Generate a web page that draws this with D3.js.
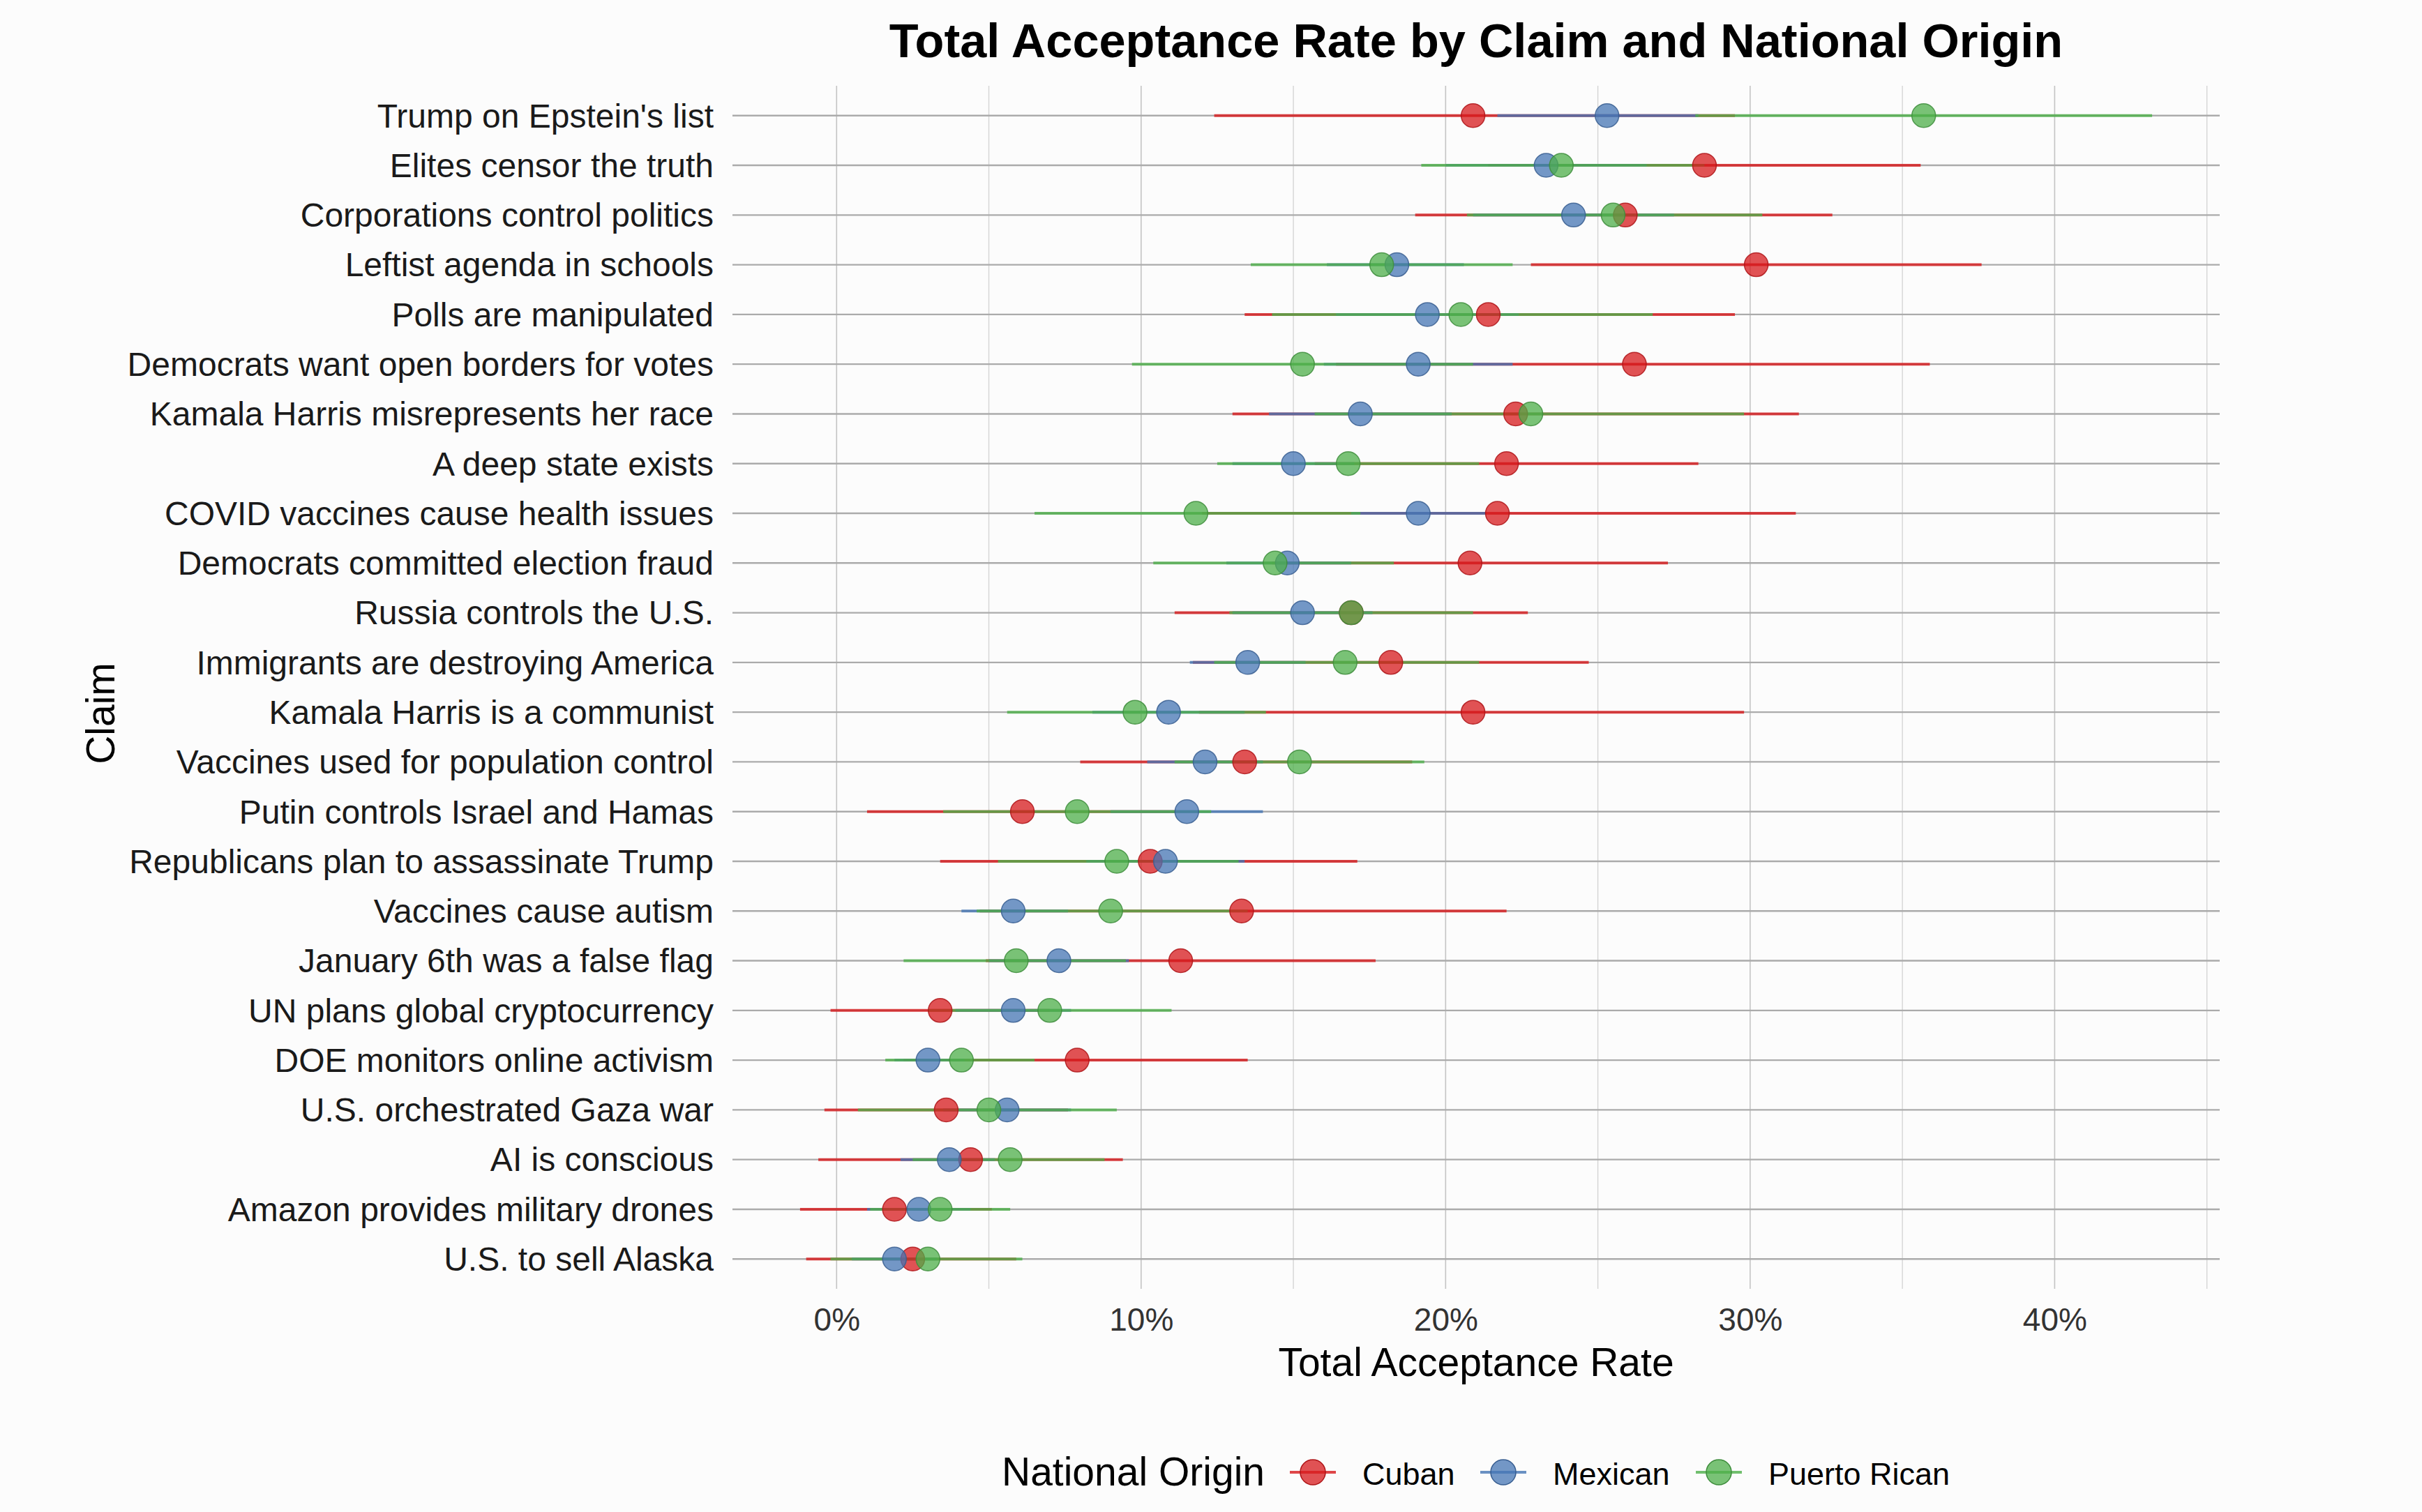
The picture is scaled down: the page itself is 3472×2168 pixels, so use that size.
<!DOCTYPE html>
<html>
<head>
<meta charset="utf-8">
<script src="https://cdn.jsdelivr.net/npm/d3@7"></script>
<style>
  html, body { margin: 0; padding: 0; background: #fcfcfc; }
  svg { display: block; font-family: "Liberation Sans", Arial, Helvetica, sans-serif; }
</style>
</head>
<body>
<svg id="chart" width="3472" height="2168"></svg>
<script>
// ---------------- DATA ----------------
const claims = [
  "Trump on Epstein's list",
  "Elites censor the truth",
  "Corporations control politics",
  "Leftist agenda in schools",
  "Polls are manipulated",
  "Democrats want open borders for votes",
  "Kamala Harris misrepresents her race",
  "A deep state exists",
  "COVID vaccines cause health issues",
  "Democrats committed election fraud",
  "Russia controls the U.S.",
  "Immigrants are destroying America",
  "Kamala Harris is a communist",
  "Vaccines used for population control",
  "Putin controls Israel and Hamas",
  "Republicans plan to assassinate Trump",
  "Vaccines cause autism",
  "January 6th was a false flag",
  "UN plans global cryptocurrency",
  "DOE monitors online activism",
  "U.S. orchestrated Gaza war",
  "AI is conscious",
  "Amazon provides military drones",
  "U.S. to sell Alaska"
];

const groups = ["Cuban", "Mexican", "Puerto Rican"];

// acceptance rate (%), lower and upper interval bounds (%)
const cubanRate = [20.9, 28.5, 25.9, 30.2, 21.4, 26.2, 22.3, 22.0, 21.7, 20.8, 16.9, 18.2, 20.9, 13.4, 6.1, 10.3, 13.3, 11.3, 3.4, 7.9, 3.6, 4.4, 1.9, 2.5];
const cubanLow  = [12.4, 21.4, 19.0, 22.8, 13.4, 16.4, 13.0, 15.7, 12.0, 14.3, 11.1, 11.7, 11.9, 8.0, 1.0, 3.4, 4.7, 4.9, -0.2, 2.2, -0.4, -0.6, -1.2, -1.0];
const cubanHigh = [29.5, 35.6, 32.7, 37.6, 29.5, 35.9, 31.6, 28.3, 31.5, 27.3, 22.7, 24.7, 29.8, 18.9, 11.1, 17.1, 22.0, 17.7, 7.0, 13.5, 7.6, 9.4, 5.1, 5.9];

const mexicanRate = [25.3, 23.3, 24.2, 18.4, 19.4, 19.1, 17.2, 15.0, 19.1, 14.8, 15.3, 13.5, 10.9, 12.1, 11.5, 10.8, 5.8, 7.3, 5.8, 3.0, 5.6, 3.7, 2.7, 1.9];
const mexicanLow  = [21.7, 20.0, 20.9, 16.1, 16.4, 16.0, 14.2, 13.0, 16.9, 12.8, 13.0, 11.6, 8.4, 10.2, 9.0, 8.2, 4.1, 5.0, 3.9, 1.9, 3.5, 2.1, 1.0, 0.5];
const mexicanHigh = [28.3, 26.6, 27.5, 20.6, 22.4, 22.2, 20.2, 17.0, 21.3, 16.9, 17.6, 15.4, 13.4, 14.0, 14.0, 13.4, 7.6, 9.6, 7.7, 4.2, 7.7, 5.2, 4.4, 3.3];

const puertoRate = [35.7, 23.8, 25.5, 17.9, 20.5, 15.3, 22.8, 16.8, 11.8, 14.4, 16.9, 16.7, 9.8, 15.2, 7.9, 9.2, 9.0, 5.9, 7.0, 4.1, 5.0, 5.7, 3.4, 3.0];
const puertoLow  = [28.2, 19.2, 20.7, 13.6, 14.3, 9.7, 15.7, 12.5, 6.5, 10.4, 12.9, 12.4, 5.6, 11.1, 3.5, 5.3, 4.6, 2.2, 3.0, 1.6, 0.7, 2.5, 1.1, -0.2];
const puertoHigh = [43.2, 28.5, 30.4, 22.2, 26.8, 20.9, 29.8, 21.1, 17.2, 18.3, 20.9, 21.1, 14.1, 19.3, 12.3, 13.2, 13.5, 9.5, 11.0, 6.5, 9.2, 8.8, 5.7, 6.1];

const xTicks = [0, 10, 20, 30, 40];
const xMinorTicks = [5, 15, 25, 35, 45];

// ---------------- BUILD ----------------
const series = [
  { name: groups[0], rate: cubanRate, low: cubanLow, high: cubanHigh },
  { name: groups[1], rate: mexicanRate, low: mexicanLow, high: mexicanHigh },
  { name: groups[2], rate: puertoRate, low: puertoLow, high: puertoHigh }
];
const rows = [];
series.forEach(s => claims.forEach((c, i) => rows.push({ group: s.name, claim: c, rate: s.rate[i], low: s.low[i], high: s.high[i] })));

const color = d3.scaleOrdinal().domain(groups).range(["#d7191c", "#4575b4", "#4daf4a"]);

const svg = d3.select("#chart");
const W = 3472, H = 2168;
const panel = { left: 1050, right: 3182, top: 123, bottom: 1848 };

svg.append("rect").attr("width", W).attr("height", H).attr("fill", "#fcfcfc");

const lo = d3.min(rows, d => d.low), hi = d3.max(rows, d => d.high);
const pad = (hi - lo) * 0.05;
const x = d3.scaleLinear().domain([lo - pad, hi + pad]).range([panel.left, panel.right]);

const step = (panel.bottom - panel.top) / (claims.length - 1 + 1.2);
const y = d3.scalePoint().domain(claims).range([panel.top + 0.6 * step, panel.bottom - 0.6 * step]);

// grid
const g = svg.append("g");
g.selectAll(".minor").data(xMinorTicks.filter(t => x(t) <= panel.right)).join("line")
  .attr("x1", d => x(d)).attr("x2", d => x(d)).attr("y1", panel.top).attr("y2", panel.bottom)
  .attr("stroke", "#d4d4d4").attr("stroke-width", 1.4);
g.selectAll(".major").data(xTicks).join("line")
  .attr("x1", d => x(d)).attr("x2", d => x(d)).attr("y1", panel.top).attr("y2", panel.bottom)
  .attr("stroke", "#c4c4c4").attr("stroke-width", 1.6);
g.selectAll(".hline").data(claims).join("line")
  .attr("x1", panel.left).attr("x2", panel.right).attr("y1", d => y(d)).attr("y2", d => y(d))
  .attr("stroke", "#ababab").attr("stroke-width", 2.4);

// intervals
svg.append("g").selectAll("line").data(rows).join("line")
  .attr("x1", d => x(d.low)).attr("x2", d => x(d.high))
  .attr("y1", d => y(d.claim)).attr("y2", d => y(d.claim))
  .attr("stroke", d => color(d.group)).attr("stroke-opacity", 0.8).attr("stroke-width", 4);

// points
svg.append("g").selectAll("circle").data(rows).join("circle")
  .attr("cx", d => x(d.rate)).attr("cy", d => y(d.claim)).attr("r", 17)
  .attr("fill", d => color(d.group)).attr("fill-opacity", 0.75)
  .attr("stroke", d => d3.color(color(d.group)).darker(0.6)).attr("stroke-width", 1.5).attr("stroke-opacity", 0.85);

// axes
const xAxis = svg.append("g").attr("transform", `translate(0,${panel.bottom})`)
  .call(d3.axisBottom(x).tickValues(xTicks).tickFormat(d => d + "%").tickSize(0).tickPadding(27));
xAxis.select(".domain").remove();
xAxis.selectAll("text").attr("font-size", 46).attr("fill", "#333").attr("font-family", "Liberation Sans, Arial, sans-serif");

const yAxis = svg.append("g").attr("transform", `translate(${panel.left},0)`)
  .call(d3.axisLeft(y).tickSize(0).tickPadding(27));
yAxis.select(".domain").remove();
yAxis.selectAll("text").attr("font-size", 48).attr("fill", "#1a1a1a").attr("dy", "0.34em").attr("font-family", "Liberation Sans, Arial, sans-serif");

// titles
const cx = (panel.left + panel.right) / 2;
svg.append("text").attr("x", cx).attr("y", 82).attr("text-anchor", "middle")
  .attr("font-size", 68.5).attr("font-weight", "bold").attr("fill", "#000")
  .text("Total Acceptance Rate by Claim and National Origin");
svg.append("text").attr("x", cx).attr("y", 1973).attr("text-anchor", "middle")
  .attr("font-size", 57).attr("fill", "#000").text("Total Acceptance Rate");
svg.append("text").attr("transform", `translate(164,1023) rotate(-90)`)
  .attr("text-anchor", "middle").attr("font-size", 57).attr("fill", "#000").text("Claim");

// legend
const leg = svg.append("g");
leg.append("text").attr("x", 1436).attr("y", 2130).attr("font-size", 57).attr("fill", "#000").text("National Origin");
const keyX = [1882, 2155, 2464];
const ky = 2111;
groups.forEach((gname, i) => {
  const k = leg.append("g");
  k.append("line").attr("x1", keyX[i] - 33).attr("x2", keyX[i] + 33).attr("y1", ky).attr("y2", ky)
    .attr("stroke", color(gname)).attr("stroke-opacity", 0.8).attr("stroke-width", 4);
  k.append("circle").attr("cx", keyX[i]).attr("cy", ky).attr("r", 18)
    .attr("fill", color(gname)).attr("fill-opacity", 0.75)
    .attr("stroke", d3.color(color(gname)).darker(0.6)).attr("stroke-width", 1.5);
  k.append("text").attr("x", keyX[i] + 71).attr("y", 2129).attr("font-size", 45).attr("fill", "#000").text(gname);
});
</script>
</body>
</html>
